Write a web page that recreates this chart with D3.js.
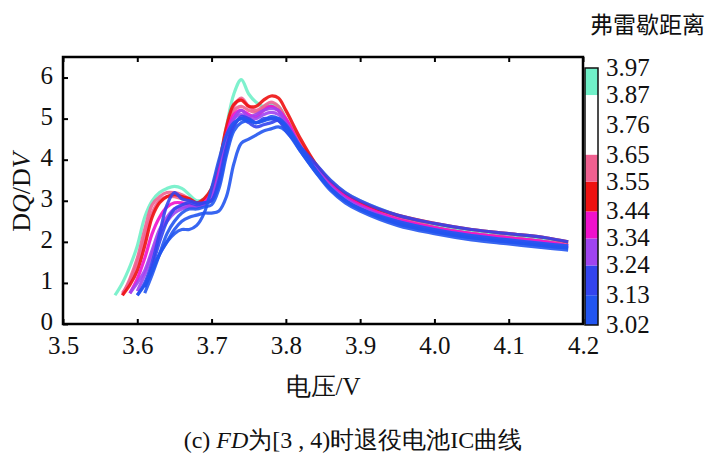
<!DOCTYPE html>
<meta charset="utf-8">
<style>
  body { margin: 0; background: #fff; }
  text { fill: #111; }
</style>
<body>
<svg width="707" height="471"></svg>
<script src="https://d3js.org/d3.v7.min.js"></script>
<script>
// voltage grid shared by all curves
const volts = [3.57,3.58,3.59,3.60,3.61,3.62,3.63,3.64,3.65,3.66,3.67,3.68,3.69,3.70,3.71,3.72,3.73,3.74,3.75,3.76,3.77,3.78,3.79,3.80,3.82,3.84,3.86,3.88,3.90,3.95,4.00,4.05,4.10,4.15,4.18];

// each curve: Frechet distance + dQ/dV values (null = not started)
const curves = [
  { fd: 3.92, v: [0.7,1.0,1.4,1.9,2.6,3.0,3.2,3.3,3.35,3.3,3.15,3.0,3.05,3.3,3.9,4.8,5.6,5.95,5.6,5.4,5.3,5.35,5.3,5.0,4.4,3.9,3.5,3.2,3.0,2.65,2.4,2.25,2.15,2.05,2.0] },
  { fd: 3.62, v: [null,0.75,1.05,1.5,2.1,2.7,3.0,3.1,3.1,3.05,3.0,2.95,3.0,3.25,3.85,4.7,5.2,5.3,5.2,5.15,5.25,5.3,5.2,4.95,4.35,3.85,3.4,3.1,2.9,2.6,2.35,2.2,2.1,2.0,1.95] },
  { fd: 3.60, v: [null,0.7,1.1,1.6,2.3,2.9,3.1,3.2,3.2,3.15,3.05,2.95,3.0,3.2,3.8,4.7,5.3,5.5,5.3,5.2,5.3,5.4,5.3,5.0,4.4,3.9,3.45,3.15,2.95,2.6,2.35,2.2,2.1,2.0,1.95] },
  { fd: 3.50, v: [null,0.7,0.95,1.3,1.9,2.6,2.95,3.1,3.15,3.1,3.05,2.95,3.05,3.3,3.9,4.8,5.35,5.45,5.3,5.3,5.45,5.55,5.5,5.2,4.5,3.9,3.45,3.15,2.95,2.65,2.45,2.3,2.2,2.1,2.0] },
  { fd: 3.40, v: [null,null,0.75,1.1,1.6,2.2,2.6,2.85,2.95,2.95,2.9,2.85,2.95,3.2,3.8,4.6,5.1,5.2,5.1,5.05,5.2,5.3,5.2,5.0,4.3,3.8,3.4,3.1,2.9,2.55,2.35,2.2,2.1,2.0,1.9] },
  { fd: 3.30, v: [null,null,0.75,1.0,1.3,1.8,2.3,2.6,2.8,2.85,2.85,2.85,2.9,3.1,3.6,4.4,5.0,5.2,5.05,5.1,5.2,5.25,5.2,4.9,4.3,3.8,3.35,3.05,2.85,2.5,2.3,2.15,2.05,1.95,1.9] },
  { fd: 3.28, v: [null,null,null,0.8,1.2,1.7,2.2,2.5,2.7,2.8,2.85,2.85,2.9,3.1,3.6,4.5,5.0,5.1,5.0,5.0,5.1,5.15,5.1,4.9,4.3,3.8,3.35,3.05,2.85,2.5,2.3,2.15,2.05,1.95,1.85] },
  { fd: 3.20, v: [null,null,null,null,0.9,1.4,2.0,2.5,2.8,2.9,2.95,2.9,2.95,3.0,3.5,4.3,4.85,5.0,4.9,4.8,4.85,4.9,4.95,4.7,4.3,3.9,3.5,3.2,3.0,2.65,2.45,2.3,2.2,2.1,2.0] },
  { fd: 3.15, v: [null,null,null,0.7,1.0,1.5,2.2,2.9,3.2,3.05,3.0,2.95,2.95,3.0,3.4,4.2,4.8,5.05,5.0,4.9,5.0,5.0,4.95,4.8,4.25,3.75,3.3,3.0,2.8,2.45,2.25,2.1,2.0,1.9,1.85] },
  { fd: 3.10, v: [null,null,null,null,0.75,1.2,1.7,2.2,2.5,2.7,2.8,2.8,2.85,2.9,3.3,4.1,4.7,4.9,4.95,4.9,4.95,5.0,5.0,4.85,4.3,3.75,3.3,3.0,2.8,2.45,2.25,2.1,2.0,1.9,1.85] },
  { fd: 3.08, v: [null,null,null,null,0.9,1.3,1.7,2.0,2.2,2.3,2.3,2.4,2.7,3.3,4.0,4.6,4.9,5.0,4.95,4.9,4.95,5.05,5.0,4.8,4.2,3.7,3.25,2.95,2.75,2.4,2.2,2.05,1.95,1.85,1.8] },
  { fd: 3.05, v: [null,null,null,0.7,0.95,1.3,1.7,2.0,2.3,2.5,2.6,2.65,2.7,2.7,2.75,3.1,3.9,4.4,4.5,4.6,4.7,4.75,4.8,4.7,4.2,3.7,3.3,3.0,2.8,2.5,2.3,2.15,2.05,1.95,1.9] }
];

const xTicks = [3.5,3.6,3.7,3.8,3.9,4.0,4.1,4.2];
const yTicks = [0,1,2,3,4,5,6];
const cbTicks = [3.02,3.13,3.24,3.34,3.44,3.55,3.65,3.76,3.87,3.97];
const cbColors = ["#2255f0","#3344ee","#a044f0","#f011cc","#ee1111","#f06090","#ffffff","#ffffff","#70f0c8"];

const SERIF = '"Liberation Serif", "DejaVu Serif", serif';
const svg = d3.select("svg").attr("font-family", SERIF);
const x = d3.scaleLinear().domain([3.5, 4.2]).range([63, 583]);
const y = d3.scaleLinear().domain([0, 6.5]).range([324, 57]);
const color = d3.scaleThreshold().domain(cbTicks.slice(1, -1)).range(cbColors);

const line = d3.line()
  .defined(d => d[1] != null)
  .x(d => x(d[0])).y(d => y(d[1]))
  .curve(d3.curveCatmullRom);

svg.append("g").selectAll("path")
  .data(curves.slice().sort((a, b) => b.fd - a.fd))
  .join("path")
  .attr("fill", "none")
  .attr("stroke", d => color(d.fd))
  .attr("stroke-width", 3.2)
  .attr("stroke-opacity", 0.9)
  .attr("d", d => line(volts.map((vv, i) => [vv, d.v[i]])));

// frame
svg.append("rect").attr("x", 63).attr("y", 57).attr("width", 520).attr("height", 267)
  .attr("fill", "none").attr("stroke", "#000").attr("stroke-width", 2.5);

const fs = "25px";
svg.append("g").attr("transform", "translate(0,324)")
  .call(d3.axisBottom(x).tickValues(xTicks).tickSize(-5).tickFormat(d3.format(".1f")))
  .call(g => g.attr("font-family", SERIF).select(".domain").remove())
  .call(g => g.selectAll("line").attr("stroke-width", 2))
  .call(g => g.selectAll("text").attr("dy", "1.08em").style("font-size", fs).style("font-family", SERIF));
svg.append("g").attr("transform", "translate(0,57)")
  .call(d3.axisTop(x).tickValues(xTicks).tickSize(-5).tickFormat(""))
  .call(g => g.select(".domain").remove())
  .call(g => g.selectAll("line").attr("stroke-width", 2));
svg.append("g").attr("transform", "translate(63,0)")
  .call(d3.axisLeft(y).tickValues(yTicks).tickSize(-5).tickFormat(d3.format("d")))
  .call(g => g.attr("font-family", SERIF).select(".domain").remove())
  .call(g => g.selectAll("line").attr("stroke-width", 2))
  .call(g => g.selectAll("text").attr("x", -10).attr("dy", "0.22em").style("font-size", fs).style("font-family", SERIF));

// y label
svg.append("text").attr("transform", "translate(30,192) rotate(-90)")
  .attr("text-anchor", "middle").style("font-size", "26px")
  .html('D<tspan font-style="italic">Q</tspan>/D<tspan font-style="italic">V</tspan>');
svg.append("text").attr("x", 323).attr("y", 395).attr("text-anchor", "middle")
  .style("font-size", "25px").text("电压/V");
svg.append("text").attr("x", 353).attr("y", 448).attr("text-anchor", "middle")
  .style("font-size", "24px")
  .html('(c) <tspan font-style="italic">FD</tspan>为[3 , 4)时退役电池IC曲线');

// colorbar
const cb = d3.scaleLinear().domain([3.02, 3.97]).range([325, 68]);
const cbx = 585, cbw = 13;
const bounds = [3.02].concat(cbTicks.slice(1, -1), [3.97]);
svg.append("g").selectAll("rect")
  .data(cbColors)
  .join("rect")
  .attr("x", cbx).attr("width", cbw)
  .attr("y", (d, i) => cb(bounds[i + 1]))
  .attr("height", (d, i) => cb(bounds[i]) - cb(bounds[i + 1]))
  .attr("fill", d => d);
svg.append("rect").attr("x", cbx).attr("y", 68).attr("width", cbw).attr("height", 257)
  .attr("fill", "none").attr("stroke", "#111").attr("stroke-width", 1.5);
svg.append("g").selectAll("text")
  .data(cbTicks)
  .join("text")
  .attr("x", 606).attr("y", d => cb(d) + 8)
  .style("font-size", "25px").style("font-family", SERIF)
  .text(d => d.toFixed(2));
svg.append("text").attr("x", 705).attr("y", 33).attr("text-anchor", "end")
  .style("font-size", "23px").style("font-family", '"Noto Sans CJK SC", sans-serif').text("弗雷歇距离");
</script>
</body>
